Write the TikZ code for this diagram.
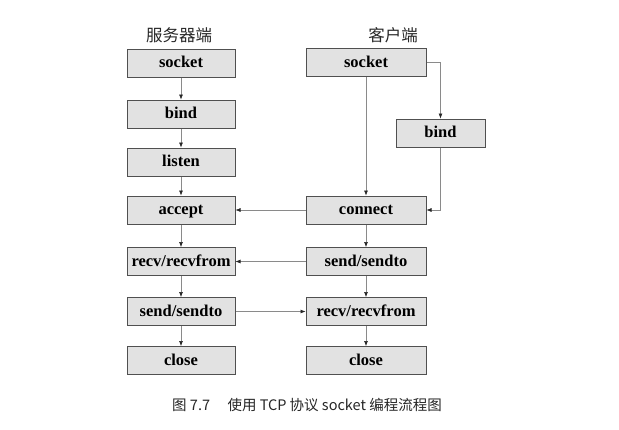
\documentclass[tikz,border=0pt]{standalone}
\usepackage{fontspec}
\setmainfont{Liberation Serif}
\newfontfamily\cjk{Noto Sans CJK SC}
\usetikzlibrary{arrows.meta}
\definecolor{boxfill}{HTML}{E2E2E2}
\definecolor{boxline}{HTML}{505050}
\definecolor{arrline}{HTML}{8A8A8A}
\tikzset{
  fbox/.style={draw=boxline, line width=1pt, fill=boxfill, minimum height=28pt, inner sep=0pt, text height=12.5pt, text depth=3pt, font=\fontsize{16.5}{16.5}\selectfont\bfseries},
  lbox/.style={fbox, minimum width=108pt},
  rbox/.style={fbox, minimum width=120pt},
  conn/.style={draw=arrline, line width=0.6pt, -{Latex[length=5pt,width=4pt,color=black!85]}},
  title/.style={font=\cjk\fontsize{16.5}{16.5}\selectfont, text=black!85},
}
\begin{document}
\begin{tikzpicture}[x=1pt,y=-1pt]
\useasboundingbox (0,0) rectangle (619,429);
\node[title] (tL) at (179,35) {服务器端};
\node[title] (tR) at (393,35) {客户端};
\node[lbox] (sockL) at (181,63) {socket};
\node[lbox] (bindL) at (181,114) {bind};
\node[lbox] (listL) at (181,162) {listen};
\node[lbox] (accL) at (181,210) {accept};
\node[lbox] (recvL) at (181,261.5) {recv/recvfrom};
\node[lbox] (sendL) at (181,311.5) {send/sendto};
\node[lbox] (closeL) at (181,360.5) {close};
\node[rbox] (sockR) at (366,62.5) {socket};
\node[fbox, minimum width=89pt] (bindR) at (440.5,133) {bind};
\node[rbox] (connR) at (366,210) {connect};
\node[rbox] (sendR) at (366,261.5) {send/sendto};
\node[rbox] (recvR) at (366,311.5) {recv/recvfrom};
\node[rbox] (closeR) at (366,360.5) {close};
\node[font=\cjk\fontsize{14.5}{14.5}\selectfont, text=black!85] (cap) at (307,405) {图 7.7\hspace{1.2em}使用 TCP 协议 socket 编程流程图};
\draw[conn] (sockL) -- (bindL);
\draw[conn] (bindL) -- (listL);
\draw[conn] (listL) -- (accL);
\draw[conn] (accL) -- (recvL);
\draw[conn] (recvL) -- (sendL);
\draw[conn] (sendL) -- (closeL);
\draw[conn] (sockR) -- (connR);
\draw[conn] (connR) -- (sendR);
\draw[conn] (sendR) -- (recvR);
\draw[conn] (recvR) -- (closeR);
\draw[conn] (sockR.east) -| (bindR.north);
\draw[conn] (bindR.south) |- (connR.east);
\draw[conn] (connR.west) -- (accL.east);
\draw[conn] (sendR.west) -- (recvL.east);
\draw[conn] (sendL.east) -- (recvR.west);
\end{tikzpicture}
\end{document}
